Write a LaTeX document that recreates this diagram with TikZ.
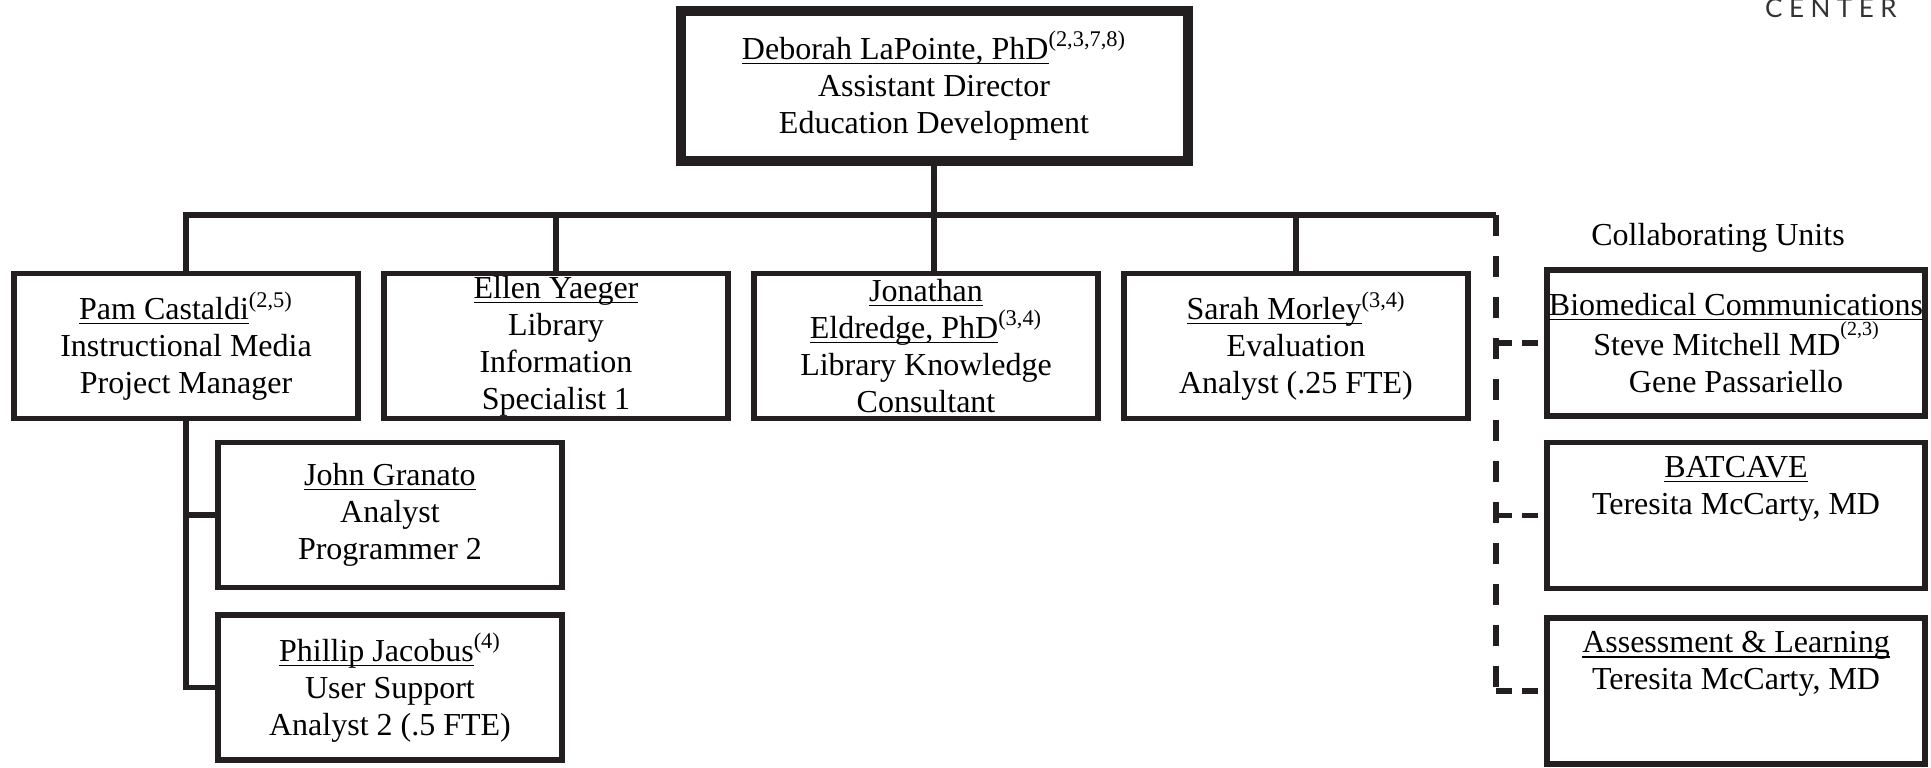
\documentclass[tikz,border=0pt]{standalone}
\usepackage{fontspec}
\setmainfont{Liberation Serif}
\newfontfamily\logofont[LetterSpace=25]{Lato}
\usepackage{xcolor}
\usepackage{tikz}
\usetikzlibrary{positioning}
\definecolor{ink}{HTML}{231F20}
\newsavebox\nmbox
\newcommand\nm[1]{\sbox\nmbox{#1}\rlap{\rule[-2.4pt]{\wd\nmbox}{0.7pt}}\usebox\nmbox}
\newcommand\sups[1]{\textsuperscript{#1}}
\tikzset{
  unit/.style  ={rectangle, draw=ink, line width=2.8pt, fill=white, align=center,
                 inner sep=1pt, font=\fontsize{16}{18.5}\selectfont,
                 minimum width=172.2pt, minimum height=72.5pt},
  head/.style  ={unit, line width=5pt, minimum width=253.5pt, minimum height=75pt},
  collab/.style={unit, minimum width=189pt, minimum height=73pt},
  link/.style  ={line width=2.8pt, draw=ink},
  dlink/.style ={link, dash pattern=on 10.5pt off 10pt},
  slink/.style ={link, dash pattern=on 8pt off 5pt},
}

\begin{document}
\begin{tikzpicture}[x=0.5pt, y=-0.5pt, node distance=10pt]
  \useasboundingbox (0,0) rectangle (1931,767);

  \node[unit] (pam) at (186,346)
    {\nm{Pam Castaldi}\sups{(2,5)}\\Instructional Media\\Project Manager};
  \node[unit, right=of pam] (ellen)
    {\nm{Ellen Yaeger}\\Library\\Information\\Specialist 1};
  \node[unit, right=of ellen] (jon)
    {\nm{Jonathan}\\\nm{Eldredge, PhD}\sups{(3,4)}\\Library Knowledge\\Consultant};
  \node[unit, right=of jon] (sarah)
    {\nm{Sarah Morley}\sups{(3,4)}\\Evaluation\\Analyst (.25 FTE)};
  \node[head, above=52.5pt of jon, xshift=4pt] (top)
    {\nm{Deborah LaPointe, PhD}\sups{(2,3,7,8)}\\Assistant Director\\Education Development};

  \node[unit] (john) at (390,515) {\nm{John Granato}\\Analyst\\Programmer 2};
  \node[unit, below=11pt of john] (phil)
    {\nm{Phillip Jacobus}\sups{(4)}\\User Support\\Analyst 2 (.5 FTE)};

  \node[collab] (bio) at (1736,343)
    {\nm{Biomedical Communications}\\Steve Mitchell MD\raisebox{0.62em}{\fontsize{10}{10}\selectfont(2,3)}\\Gene Passariello};
  \node[collab, below=10.5pt of bio] (bat)
    {\nm{BATCAVE}\\Teresita McCarty, MD\\[12pt]\mbox{}};
  \node[collab, below=12pt of bat] (assess)
    {\nm{Assessment \& Learning}\\Teresita McCarty, MD\\[12pt]\mbox{}};
  \node[font=\fontsize{16}{18.5}\selectfont, inner sep=0pt] (cu) at (1718,238) {Collaborating Units};
  \node[font=\logofont\fontsize{13}{13}\selectfont, text=black!80, anchor=base east, inner sep=0pt]
    (logo) at (1897,17) {CENTER};

  \coordinate (busend) at (1496,215);
  \draw[link] (pam.north) |- (busend);
  \draw[link] (top.south) -- (top.south |- jon.north);
  \draw[link] (ellen.north) -- (ellen.north |- busend);
  \draw[link] (sarah.north) -- (sarah.north |- busend);
  \draw[link] (pam.south) |- (phil.west);
  \draw[link] (pam.south |- john.west) -- (john.west);

  \draw[dlink] (busend) -- (busend |- assess.west);
  \draw[slink] (busend |- bio.west) -- (bio.west);
  \draw[slink] (busend |- bat.west) -- (bat.west);
  \draw[slink] (busend |- assess.west) -- (assess.west);
\end{tikzpicture}
\end{document}
